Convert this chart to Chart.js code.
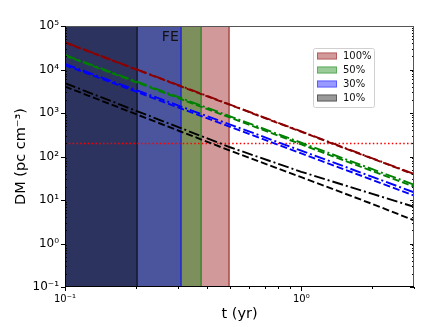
<!DOCTYPE html>
<html>
<head>
<meta charset="utf-8">
<script src="https://cdn.jsdelivr.net/npm/chart.js@4"></script>
<style>
  html, body { margin: 0; padding: 0; background: #fff; }
</style>
</head>
<body>
<canvas id="dmChart" width="436" height="327"></canvas>
<script>
// Values
const tYears = [0.1, 0.2, 0.5, 1, 2, 3];
const redDash = [41400, 10000, 1530, 369, 89, 38.8];
const redDashDot = [42300, 10200, 1560, 377, 91, 39.6];
const greenDashDot = [21600, 5330, 839, 207, 51, 22.5];
const greenDash = [20900, 5080, 783, 190, 46.3, 20.3];
const blueDashDot = [13400, 3370, 542, 136, 34.1, 15.0];
const blueDash = [12600, 3090, 481, 118, 29, 12.6];
const blackDashDot = [4850, 1125, 163, 44.5, 13.8, 7.0];
const blackDash = [4060, 940, 136, 33.4, 8.1, 3.4];

const bandLabels = ['100%', '50%', '30%', '10%'];
const bandEnds = [0.495, 0.377, 0.31, 0.202];
const bandColors = ['rgba(139,0,0,0.4)', 'rgba(0,128,0,0.4)', 'rgba(0,0,255,0.4)', 'rgba(0,0,0,0.4)'];

const dmLimit = 200;
const tRange = [0.1, 3.0];
const dmRange = [0.1, 1e5];

const xTickValues = [0.1, 1];
const xTickLabels = ['10⁻¹', '10⁰'];
const yTickValues = [0.1, 1, 10, 100, 1e3, 1e4, 1e5];
const yTickLabels = ['10⁻¹', '10⁰', '10¹', '10²', '10³', '10⁴', '10⁵'];

const DASH = [7, 3];
const DASHDOT = [11, 3, 2, 3];

function pts(ys) {
  return tYears.map((t, i) => ({ x: t, y: ys[i] }));
}

function lineSet(ys, color, dash) {
  return {
    data: pts(ys),
    borderColor: color,
    borderWidth: 1.9,
    borderDash: dash,
    pointRadius: 0,
    fill: false,
    tension: 0,
    order: 0
  };
}

// bands: top edge + right edge, filled down to the axis bottom
const bandSets = bandLabels.map((lab, i) => ({
  label: lab,
  isBand: true,
  data: [
    { x: tRange[0], y: dmRange[1] },
    { x: bandEnds[i], y: dmRange[1] },
    { x: bandEnds[i], y: dmRange[0] }
  ],
  backgroundColor: bandColors[i],
  borderColor: bandColors[i],
  borderWidth: 1,
  pointRadius: 0,
  fill: 'start',
  tension: 0,
  order: 4 - i
}));

const limitSet = {
  data: [{ x: tRange[0], y: dmLimit }, { x: tRange[1], y: dmLimit }],
  borderColor: '#ff0000',
  borderWidth: 1.5,
  borderDash: [1.5, 2.3],
  pointRadius: 0,
  fill: false,
  order: 0
};

// frame, tick marks, FE label and legend
const decorations = {
  id: 'decorations',
  afterDatasetsDraw(chart) {
    const ctx = chart.ctx;
    const area = chart.chartArea;
    const xs = chart.scales.x;
    const ys = chart.scales.y;
    ctx.save();

    // tick marks
    ctx.strokeStyle = '#000';
    ctx.lineWidth = 1;
    ctx.beginPath();
    for (let d = -1; d <= 4; d++) {
      for (let m = 1; m <= 9; m++) {
        const v = m * Math.pow(10, d);
        const py = Math.round(ys.getPixelForValue(v)) + 0.5;
        if (m === 1) {
          ctx.moveTo(area.left - 4, py); ctx.lineTo(area.left, py);
          ctx.moveTo(area.right, py); ctx.lineTo(area.right - 4, py);
        } else {
          ctx.moveTo(area.left, py); ctx.lineTo(area.left + 2, py);
          ctx.moveTo(area.right, py); ctx.lineTo(area.right - 2, py);
        }
      }
    }
    const py5 = Math.round(ys.getPixelForValue(1e5)) + 0.5;
    ctx.moveTo(area.left - 4, py5); ctx.lineTo(area.left, py5);
    for (let d = -1; d <= 0; d++) {
      for (let m = 1; m <= 9; m++) {
        const v = m * Math.pow(10, d);
        if (v > tRange[1]) break;
        const px = Math.round(xs.getPixelForValue(v)) + 0.5;
        const len = m === 1 ? 4 : 2;
        ctx.moveTo(px, area.bottom); ctx.lineTo(px, area.bottom + len);
      }
    }
    ctx.stroke();

    // frame
    ctx.strokeStyle = '#555';
    ctx.beginPath();
    ctx.moveTo(area.left, area.top + 0.5); ctx.lineTo(area.right, area.top + 0.5);
    ctx.moveTo(area.right - 0.5, area.top); ctx.lineTo(area.right - 0.5, area.bottom);
    ctx.stroke();
    ctx.strokeStyle = '#000';
    ctx.beginPath();
    ctx.moveTo(area.left + 0.5, area.top); ctx.lineTo(area.left + 0.5, area.bottom);
    ctx.moveTo(area.left, area.bottom - 0.5); ctx.lineTo(area.right, area.bottom - 0.5);
    ctx.stroke();

    // FE label
    ctx.fillStyle = '#111';
    ctx.font = '14px "DejaVu Sans"';
    ctx.textAlign = 'center';
    ctx.textBaseline = 'middle';
    ctx.fillText('FE', xs.getPixelForValue(0.279), ys.getPixelForValue(5.6e4));

    // legend box
    const lx = 313, ly = 48, lw = 61, lh = 59;
    ctx.fillStyle = 'rgba(255,255,255,0.85)';
    ctx.strokeStyle = '#d0d0d0';
    ctx.lineWidth = 1;
    ctx.beginPath();
    ctx.roundRect(lx + 0.5, ly + 0.5, lw, lh, 2);
    ctx.fill();
    ctx.stroke();
    ctx.font = '10px "DejaVu Sans"';
    ctx.textAlign = 'left';
    const bands = chart.data.datasets.filter(ds => ds.isBand);
    bands.forEach((ds, i) => {
      const cy = 56 + i * 14;
      ctx.fillStyle = ds.backgroundColor;
      ctx.strokeStyle = ds.borderColor;
      ctx.fillRect(317, cy - 3.5, 20, 7);
      ctx.strokeRect(317.5, cy - 3, 19, 6);
      ctx.fillStyle = '#111';
      ctx.fillText(ds.label, 343, cy + 0.5);
    });
    ctx.restore();
  }
};

new Chart(document.getElementById('dmChart'), {
  type: 'line',
  data: {
    datasets: [
      lineSet(redDash, '#8b0000', DASH),
      lineSet(redDashDot, '#8b0000', DASHDOT),
      lineSet(greenDash, '#008000', DASH),
      lineSet(greenDashDot, '#008000', DASHDOT),
      lineSet(blueDash, '#0000ff', DASH),
      lineSet(blueDashDot, '#0000ff', DASHDOT),
      lineSet(blackDash, '#000000', DASH),
      lineSet(blackDashDot, '#000000', DASHDOT),
      limitSet,
      ...bandSets
    ]
  },
  options: {
    responsive: false,
    animation: false,
    layout: { padding: { left: 0, right: 22, top: 26, bottom: 0 } },
    plugins: {
      legend: { display: false },
      tooltip: { enabled: false }
    },
    scales: {
      x: {
        type: 'logarithmic',
        min: tRange[0],
        max: tRange[1],
        grid: { display: false, drawTicks: false },
        border: { display: false },
        afterBuildTicks: s => { s.ticks = xTickValues.map(v => ({ value: v })); },
        afterFit: s => { s.height = 40; },
        ticks: {
          autoSkip: false,
          maxRotation: 0,
          padding: 6,
          color: '#000',
          font: { family: 'DejaVu Sans', size: 10 },
          callback: (v, i) => xTickLabels[i]
        },
        title: {
          display: true,
          text: 't (yr)',
          color: '#000',
          font: { family: 'DejaVu Sans', size: 14.5 },
          padding: { top: 0, bottom: 4 }
        }
      },
      y: {
        type: 'logarithmic',
        min: dmRange[0],
        max: dmRange[1],
        grid: { display: false, drawTicks: false },
        border: { display: false },
        afterBuildTicks: s => { s.ticks = yTickValues.map(v => ({ value: v })); },
        afterFit: s => { s.width = 65; },
        ticks: {
          autoSkip: false,
          padding: 6,
          color: '#000',
          font: { family: 'DejaVu Sans', size: 12 },
          callback: (v, i) => yTickLabels[i]
        },
        title: {
          display: true,
          text: 'DM (pc cm⁻³)',
          color: '#000',
          font: { family: 'DejaVu Sans', size: 14.5 },
          padding: { top: 13, bottom: 0 }
        }
      }
    }
  },
  plugins: [decorations]
});
</script>
</body>
</html>
